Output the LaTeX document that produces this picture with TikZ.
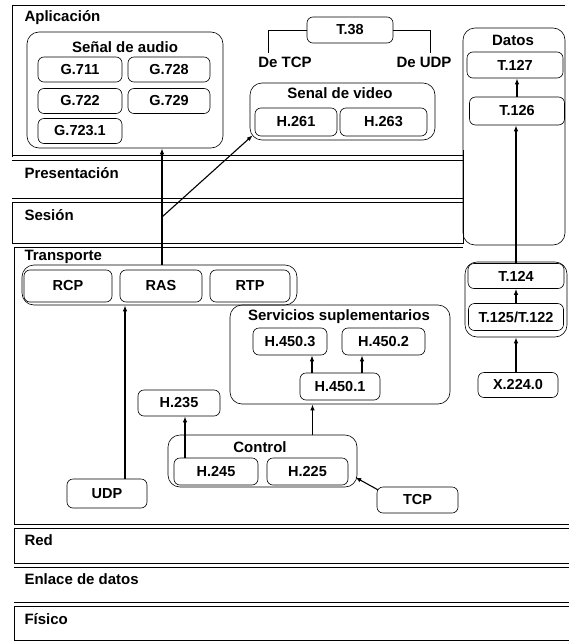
\documentclass[tikz,border=0pt]{standalone}
\usepackage{fontspec}
\setmainfont{Liberation Sans}
\usetikzlibrary{arrows.meta}
\begin{document}
\begin{tikzpicture}[x=1pt, y=-1pt,
    box/.style={draw, rounded corners=6pt, inner sep=0pt, line width=0.6pt,
        font=\bfseries\fontsize{14.5}{16}\selectfont},
    group/.style={draw, rounded corners=12pt, line width=0.6pt},
    title/.style={font=\bfseries\fontsize{15}{17}\selectfont},
    layer/.style={anchor=west, font=\bfseries\fontsize{15}{17}\selectfont},
    flow/.style={-{Latex[length=6pt,width=4.5pt]}, line width=1.1pt},
    sep/.style={line width=0.7pt}]

    % Fix the page
    \useasboundingbox (0,0) rectangle (569,642);

    % Draw the layer frames
    \draw[sep] (12,157) -- (12,5) -- (565,5);
    \draw[sep] (12,155) -- (463,155);
    \draw[sep] (12,160) -- (463,160);
    \draw[sep] (12,198) -- (463,198);
    \draw[sep] (12,202) -- (463,202) (12,202) -- (12,243);
    \draw[sep] (12,243) -- (463,243) -- (463,150);
    \draw[sep] (14,247) -- (463,247) (14,247) -- (14,524);
    \draw[sep] (14,524) -- (569,524);
    \draw[sep] (14,528) -- (569,528) (14,528) -- (14,563);
    \draw[sep] (14,563) -- (569,563);
    \draw[sep] (14,567) -- (569,567);
    \draw[sep] (14,602) -- (569,602);
    \draw[sep] (14,606) -- (569,606) (14,606) -- (14,640);
    \draw[sep] (14,640) -- (569,640);

    % Add layer labels
    \node[layer] (aplic) at (21,18) {Aplicación};
    \node[layer] (pres) at (21,173) {Presentación};
    \node[layer] (ses) at (21,215) {Sesión};
    \node[layer] (transl) at (21,257) {Transporte};
    \node[layer] (red) at (21,540) {Red};
    \node[layer] (enlace) at (21,579) {Enlace de datos};
    \node[layer] (fisico) at (21,619) {Físico};

    % Audio group
    \node[group, minimum width=196pt, minimum height=116pt] (audio) at (125,90) {};
    \node[title] (audiot) at (125,47) {Señal de audio};
    \node[box, minimum width=84pt, minimum height=25pt] (g711) at (80,69.5) {G.711};
    \node[box, minimum width=82pt, minimum height=25pt] (g728) at (169,69.5) {G.728};
    \node[box, minimum width=84pt, minimum height=25pt] (g722) at (80,101) {G.722};
    \node[box, minimum width=82pt, minimum height=25pt] (g729) at (169,101) {G.729};
    \node[box, minimum width=84pt, minimum height=25pt] (g7231) at (80,131) {G.723.1};

    % T.38 and its two inputs
    \node[box, minimum width=86pt, minimum height=26pt] (t38) at (350,30) {T.38};
    \node[title] (detcp) at (285,62) {De TCP};
    \node[title] (deudp) at (424,62) {De UDP};
    \coordinate (tcpturn) at (268,30);
    \coordinate (udpturn) at (430,30);
    \draw[line width=0.8pt] (t38.west) -- (tcpturn) -- (tcpturn |- detcp.north);
    \draw[line width=0.8pt] (t38.east) -- (udpturn) -- (udpturn |- deudp.north);

    % Video group
    \node[group, minimum width=185pt, minimum height=57pt] (video) at (342.5,111.5) {};
    \node[title] (videot) at (340,93) {Senal de video};
    \node[box, minimum width=82pt, minimum height=28pt] (h261) at (296,122) {H.261};
    \node[box, minimum width=87pt, minimum height=28pt] (h263) at (383.5,122) {H.263};

    % Data column
    \node[group, minimum width=102pt, minimum height=217pt] (datos) at (514,136.5) {};
    \node[title] (datost) at (513,40) {Datos};
    \node[box, minimum width=96pt, minimum height=26pt] (t127) at (515,65) {T.127};
    \node[box, minimum width=95pt, minimum height=28pt] (t126) at (517,111) {T.126};
    \node[group, minimum width=102pt, minimum height=75pt] (tgroup) at (516,299.5) {};
    \node[box, minimum width=96pt, minimum height=25pt] (t124) at (516,276) {T.124};
    \node[box, minimum width=95pt, minimum height=27pt] (t125) at (516,317) {T.125/T.122};
    \node[box, minimum width=80pt, minimum height=25pt] (x224) at (518,385) {X.224.0};

    % Transport group
    \node[group, minimum width=275pt, minimum height=40pt] (transp) at (159.5,285) {};
    \node[box, minimum width=88pt, minimum height=32pt] (rcp) at (68,286) {RCP};
    \node[box, minimum width=82pt, minimum height=32pt] (ras) at (161,286) {RAS};
    \node[box, minimum width=80pt, minimum height=32pt] (rtp) at (250,286) {RTP};

    % Supplementary services group
    \node[group, minimum width=220pt, minimum height=99pt] (servicios) at (340,354.5) {};
    \node[title] (serviciost) at (339,317) {Servicios suplementarios};
    \node[box, minimum width=74pt, minimum height=27pt] (h4503) at (290,341.5) {H.450.3};
    \node[box, minimum width=83pt, minimum height=27pt] (h4502) at (383.5,341.5) {H.450.2};
    \node[box, minimum width=80pt, minimum height=27pt] (h4501) at (340,386.5) {H.450.1};

    % Control group
    \node[box, minimum width=82pt, minimum height=26pt] (h235) at (179,403) {H.235};
    \node[group, minimum width=189pt, minimum height=52pt] (control) at (262.5,461) {};
    \node[title] (controlt) at (260,447) {Control};
    \node[box, minimum width=84pt, minimum height=27pt] (h245) at (216,471.5) {H.245};
    \node[box, minimum width=81pt, minimum height=27pt] (h225) at (307.5,471.5) {H.225};

    % Lower transport nodes
    \node[box, minimum width=80pt, minimum height=29pt] (udp) at (107,493.5) {UDP};
    \node[box, minimum width=81pt, minimum height=26pt] (tcp) at (417.5,500) {TCP};

    % Draw the arrows
    \coordinate (split) at (162,217);
    \draw[flow] (split |- transp.north) -- (split |- audio.south);
    \draw[flow] (split) -- ([shift={(3,-5)}]video.south west);
    \draw[flow] ([xshift=18pt]udp.north) -- ([xshift=18pt]udp.north |- transp.south);
    \draw[flow] ([xshift=6pt]h235.south |- h245.north) -- ([xshift=6pt]h235.south);
    \draw[flow] ([xshift=50pt]control.north) -- ([xshift=50pt]control.north |- servicios.south);
    \draw[flow] ([xshift=-28pt]h4501.north) -- ([xshift=-28pt]h4501.north |- h4503.south);
    \draw[flow] ([xshift=22pt]h4501.north) -- ([xshift=22pt]h4501.north |- h4502.south);
    \draw[flow] ([shift={(1,3)}]tcp.north west) -- ([shift={(-2,-10)}]control.south east);
    \draw[flow] (x224.north -| tgroup.south) -- (tgroup.south);
    \draw[flow] (t125.north) -- (t124.south);
    \draw[flow] (t124.north) -- (t124.north |- t126.south);
    \draw[flow] (t126.north) -- (t126.north |- t127.south);

\end{tikzpicture}
\end{document}
